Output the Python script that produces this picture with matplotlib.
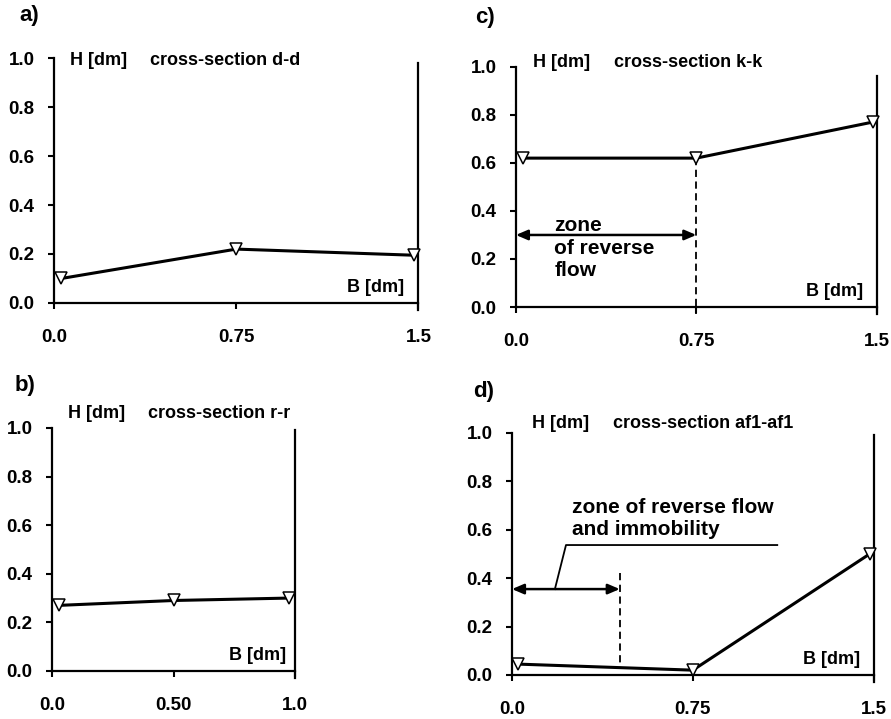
import matplotlib
matplotlib.use('Agg')
from matplotlib import pyplot as plt

plt.rcParams['font.family'] = ['Liberation Sans', 'DejaVu Sans']

# data
b_a = [0.03, 0.75, 1.48]
h_a = [0.10, 0.22, 0.195]
b_b = [0.03, 0.50, 0.977]
h_b = [0.27, 0.29, 0.30]
b_c = [0.03, 0.75, 1.483]
h_c = [0.62, 0.62, 0.77]
b_d = [0.025, 0.75, 1.483]
h_d = [0.045, 0.02, 0.50]

y_ticks = [0.0, 0.2, 0.4, 0.6, 0.8, 1.0]
y_labels = ['0.0', '0.2', '0.4', '0.6', '0.8', '1.0']
x_ticks_15 = [0.0, 0.75, 1.5]
x_labels_15 = ['0.0', '0.75', '1.5']
x_ticks_10 = [0.0, 0.5, 1.0]
x_labels_10 = ['0.0', '0.50', '1.0']

fig = plt.figure(figsize=(8.91, 7.19), dpi=100)


def panel(rect, xs, hs, xmax, xt, xl, title, head_x, head_y, right_top, letter, letter_pos):
    ax = fig.add_axes(rect)
    ax.plot(xs, hs, c='black', lw=2.2, marker='v', ms=8, mfc='white', mec='black',
            mew=1.1, clip_on=False, zorder=5)
    ax.set_xlim(0, xmax)
    ax.set_ylim(0, 1.0)
    ax.set_xticks(xt)
    ax.set_xticklabels(xl)
    ax.set_yticks(y_ticks)
    ax.set_yticklabels(y_labels)
    ax.spines['top'].set_visible(False)
    for s in ['left', 'bottom', 'right']:
        ax.spines[s].set_linewidth(1.6)
    ax.spines['right'].set_bounds(-0.03, right_top)
    ax.tick_params(axis='x', length=4, width=1.5, pad=15, labelsize=13.5)
    ax.tick_params(axis='y', length=4, width=1.5, pad=10, labelsize=13.5)
    for lab in ax.get_xticklabels() + ax.get_yticklabels():
        lab.set_fontweight('bold')
    # header texts (positions in axes fraction)
    ax.text(head_x[0], head_y, 'H [dm]', transform=ax.transAxes,
            fontsize=13, fontweight='bold', va='center', ha='left')
    ax.text(head_x[1], head_y, title, transform=ax.transAxes,
            fontsize=13, fontweight='bold', va='center', ha='left')
    ax.text(0.962, 0.063, 'B [dm]', transform=ax.transAxes, fontsize=13,
            fontweight='bold', va='center', ha='right')
    fig.text(letter_pos[0], letter_pos[1], letter, fontsize=16, fontweight='bold',
             va='center', ha='left')
    return ax


ax_a = panel([0.0606, 0.5786, 0.409, 0.3407], b_a, h_a, 1.5, x_ticks_15, x_labels_15,
             'cross-section d-d', (0.044, 0.264), 0.99, 0.98, 'a)', (0.022, 0.979))
ax_c = panel([0.579, 0.573, 0.405, 0.334], b_c, h_c, 1.5, x_ticks_15, x_labels_15,
             'cross-section k-k', (0.047, 0.273), 1.02, 0.96, 'c)', (0.533, 0.975))
ax_b = panel([0.0584, 0.0668, 0.2727, 0.338], b_b, h_b, 1.0, x_ticks_10, x_labels_10,
             'cross-section r-r', (0.066, 0.395), 1.06, 0.99, 'b)', (0.016, 0.4645))
ax_d = panel([0.5746, 0.0612, 0.406, 0.3366], b_d, h_d, 1.5, x_ticks_15, x_labels_15,
             'cross-section af1-af1', (0.055, 0.28), 1.04, 0.99, 'd)', (0.531, 0.4548))

# panel c: zone of reverse flow
ax_c.plot([0.75, 0.75], [0.62, -0.03], c='black', lw=1.3, ls=(0, (4, 2.5)), clip_on=False)
ax_c.annotate('', xy=(0.0, 0.30), xytext=(0.75, 0.30),
              arrowprops=dict(arrowstyle='<|-|>,head_length=0.7,head_width=0.3',
                              color='black', lw=1.8, shrinkA=0, shrinkB=0))
ax_c.text(0.16, 0.245, 'zone\nof reverse\nflow', fontsize=15, fontweight='bold',
          va='center', ha='left', linespacing=1.22)

# panel d: zone of reverse flow and immobility
ax_d.plot([0.447, 0.447], [0.42, 0.033], c='black', lw=1.3, ls=(0, (4, 2.5)))
ax_d.annotate('', xy=(0.0, 0.355), xytext=(0.447, 0.355),
              arrowprops=dict(arrowstyle='<|-|>,head_length=0.7,head_width=0.3',
                              color='black', lw=1.8, shrinkA=0, shrinkB=0))
ax_d.plot([0.178, 0.224, 1.10], [0.355, 0.537, 0.537], c='black', lw=1.3)
ax_d.text(0.25, 0.647, 'zone of reverse flow\nand immobility', fontsize=15,
          fontweight='bold', va='center', ha='left', linespacing=1.15)

plt.savefig('out.png', dpi=100)
